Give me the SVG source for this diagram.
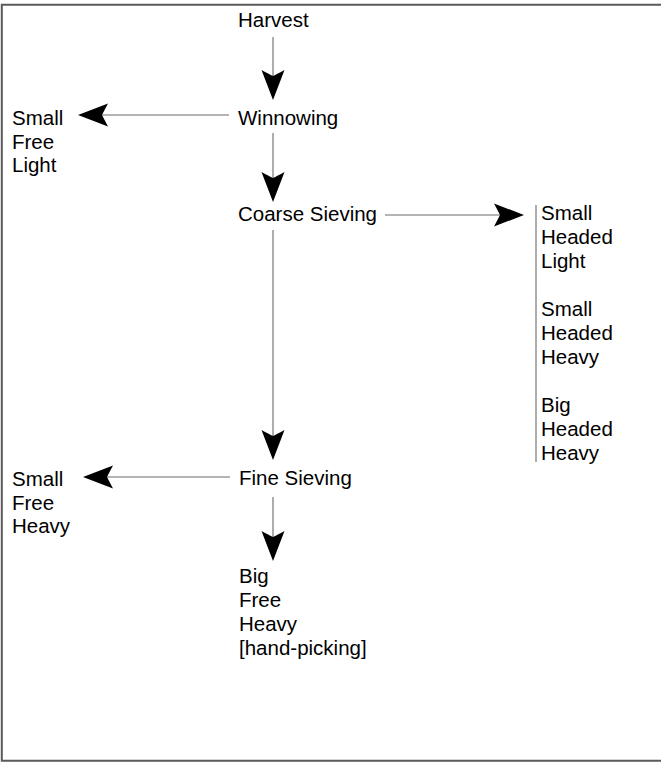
<svg xmlns="http://www.w3.org/2000/svg" width="661" height="764" viewBox="0 0 661 764">
<style>
text{font-family:"Liberation Sans",Arial,Helvetica,sans-serif;font-size:20.5px;fill:#000}
.ln{stroke:#6a6a6a;stroke-width:1.1;fill:none}
.frame{stroke:#5a5a5a;stroke-width:2;fill:none}
.head{fill:#000}
</style>
<defs>
<path id="ah" d="M0,0 L-11.5,-30 Q-4,-26 0,-24 Q4,-26 11.5,-30 Z"/>
</defs>
<rect width="661" height="764" fill="#fff"/>
<path class="frame" d="M663,4.8 H1.8 V760.8 H663"/>
<g id="connectors">
<line class="ln" x1="273" y1="37" x2="273" y2="80"/>
<use href="#ah" class="head" transform="translate(273,100)"/>
<line class="ln" x1="273" y1="133" x2="273" y2="182"/>
<use href="#ah" class="head" transform="translate(273,202)"/>
<line class="ln" x1="273" y1="230" x2="273" y2="440"/>
<use href="#ah" class="head" transform="translate(273,460)"/>
<line class="ln" x1="273" y1="497" x2="273" y2="540"/>
<use href="#ah" class="head" transform="translate(273,561)"/>
<line class="ln" x1="229" y1="115" x2="100" y2="115"/>
<use href="#ah" class="head" transform="translate(78,115) rotate(90)"/>
<line class="ln" x1="230" y1="477" x2="103" y2="477"/>
<use href="#ah" class="head" transform="translate(83,477) rotate(90)"/>
<line class="ln" x1="385" y1="215" x2="503" y2="215"/>
<use href="#ah" class="head" transform="translate(524,215) rotate(-90)"/>
<line class="ln" x1="536" y1="205" x2="536" y2="462"/>
</g>
<g id="harvest"><text x="238" y="27">Harvest</text></g>
<g id="winnowing"><text x="238" y="125">Winnowing</text></g>
<g id="coarse-sieving"><text x="238" y="221">Coarse Sieving</text></g>
<g id="fine-sieving"><text x="239" y="485">Fine Sieving</text></g>
<g id="small-free-light">
<text x="12" y="125">Small</text>
<text x="12" y="148.5">Free</text>
<text x="12" y="172">Light</text>
</g>
<g id="small-free-heavy">
<text x="12" y="486">Small</text>
<text x="12" y="509.5">Free</text>
<text x="12" y="533">Heavy</text>
</g>
<g id="big-free-heavy">
<text x="239" y="583">Big</text>
<text x="239" y="607">Free</text>
<text x="239" y="631">Heavy</text>
<text x="239" y="655">[hand-picking]</text>
</g>
<g id="coarse-outputs">
<text x="541" y="220">Small</text>
<text x="541" y="244">Headed</text>
<text x="541" y="268">Light</text>
<text x="541" y="316">Small</text>
<text x="541" y="340">Headed</text>
<text x="541" y="364">Heavy</text>
<text x="541" y="412">Big</text>
<text x="541" y="436">Headed</text>
<text x="541" y="460">Heavy</text>
</g>
</svg>
